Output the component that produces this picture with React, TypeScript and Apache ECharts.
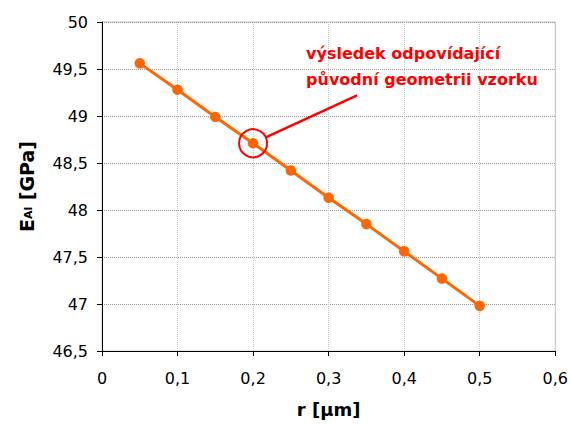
import React, { useEffect, useRef } from "react";
import * as echarts from "echarts";

const rValues = [0.05, 0.1, 0.15, 0.2, 0.25, 0.3, 0.35, 0.4, 0.45, 0.5];
const eValues = [49.56, 49.28, 48.99, 48.71, 48.42, 48.13, 47.85, 47.56, 47.27, 46.98];
const highlightIndex = 3;
const annotationLines = ["výsledek odpovídající", "původní geometrii vzorku"];
const yAxisTitle = "{e|E}{sub|Al}{e| [GPa]}";
const xAxisTitle = "r [\u03bcm]";

const fmt = (v: number) => String(Math.round(v * 10) / 10).replace(".", ",");

export default function App() {
  const ref = useRef<HTMLDivElement>(null);
  useEffect(() => {
    if (!ref.current) return;
    const chart = echarts.init(ref.current, null, { renderer: "svg" });
    const font = "'DejaVu Sans', sans-serif";
    chart.setOption({
      animation: false,
      backgroundColor: "#ffffff",
      grid: {
        left: 102,
        top: 22,
        right: 14,
        bottom: 77,
        show: true,
        borderColor: "#c8c8c8",
        borderWidth: 1,
      },
      xAxis: {
        type: "value",
        min: 0,
        max: 0.6,
        interval: 0.1,
        name: xAxisTitle,
        nameLocation: "middle",
        nameGap: 49,
        nameTextStyle: { fontFamily: font, fontSize: 18, fontWeight: "bold", color: "#000" },
        axisLine: { show: true, onZero: false, lineStyle: { color: "#000", width: 1 } },
        axisTick: { show: true, inside: false, length: 5, lineStyle: { color: "#000" } },
        axisLabel: { fontFamily: font, fontSize: 16, color: "#000", margin: 19, formatter: fmt },
        splitLine: { show: true, lineStyle: { color: "#c4c4c4", type: [1, 1], width: 1 } },
      },
      yAxis: {
        type: "value",
        min: 46.5,
        max: 50,
        interval: 0.5,
        name: yAxisTitle,
        nameLocation: "middle",
        nameRotate: 90,
        nameGap: 66,
        nameTextStyle: {
          fontFamily: font,
          fontSize: 19,
          fontWeight: "bold",
          color: "#000",
          rich: {
            e: { fontFamily: font, fontSize: 19, fontWeight: "bold", color: "#000" },
            sub: { fontFamily: font, fontSize: 11, fontWeight: "bold", color: "#000", padding: [4, 0, 0, 0] },
          },
        },
        axisLine: { show: true, onZero: false, lineStyle: { color: "#000", width: 1 } },
        axisTick: { show: true, inside: false, length: 5, lineStyle: { color: "#000" } },
        axisLabel: {
          fontFamily: font,
          fontSize: 16,
          color: "#000",
          margin: 14,
          formatter: (v: number) => String(v).replace(".", ","),
        },
        splitLine: { show: true, lineStyle: { color: "#999", type: [1, 1], width: 1 } },
      },
      series: [
        {
          type: "line",
          data: rValues.map((r, i) => [r, eValues[i]]),
          lineStyle: { color: "#FF6600", width: 3 },
          itemStyle: { color: "#FF6600" },
          symbol: "circle",
          symbolSize: 10.5,
          showSymbol: true,
        },
      ],
    });

    const p = chart.convertToPixel({ gridIndex: 0 }, [rValues[highlightIndex], eValues[highlightIndex]]) as number[];
    const cx = p[0];
    const cy = p[1];
    const radius = 14;
    const endX = cx + 104;
    const endY = cy - 48;
    const dx = endX - cx;
    const dy = endY - cy;
    const len = Math.sqrt(dx * dx + dy * dy);
    const sx = cx + (dx / len) * radius;
    const sy = cy + (dy / len) * radius;
    const textX = cx + 53;
    chart.setOption({
      graphic: [
        {
          type: "circle",
          shape: { cx, cy, r: radius },
          style: { fill: "none", stroke: "#FF0000", lineWidth: 2 },
          z: 100,
        },
        {
          type: "line",
          shape: { x1: sx, y1: sy, x2: endX, y2: endY },
          style: { stroke: "#FF0000", lineWidth: 2.5 },
          z: 100,
        },
        {
          type: "text",
          x: textX,
          y: cy - 90,
          style: {
            text: annotationLines[0],
            fill: "#FF0000",
            font: "bold 16px 'DejaVu Sans', sans-serif",
            textAlign: "left",
            textVerticalAlign: "middle",
          },
          z: 100,
        },
        {
          type: "text",
          x: textX,
          y: cy - 64,
          style: {
            text: annotationLines[1],
            fill: "#FF0000",
            font: "bold 16px 'DejaVu Sans', sans-serif",
            textAlign: "left",
            textVerticalAlign: "middle",
          },
          z: 100,
        },
      ],
    });
    return () => chart.dispose();
  }, []);
  return <div ref={ref} style={{ position: "absolute", left: 0, top: 0, width: 571, height: 428 }} />;
}
